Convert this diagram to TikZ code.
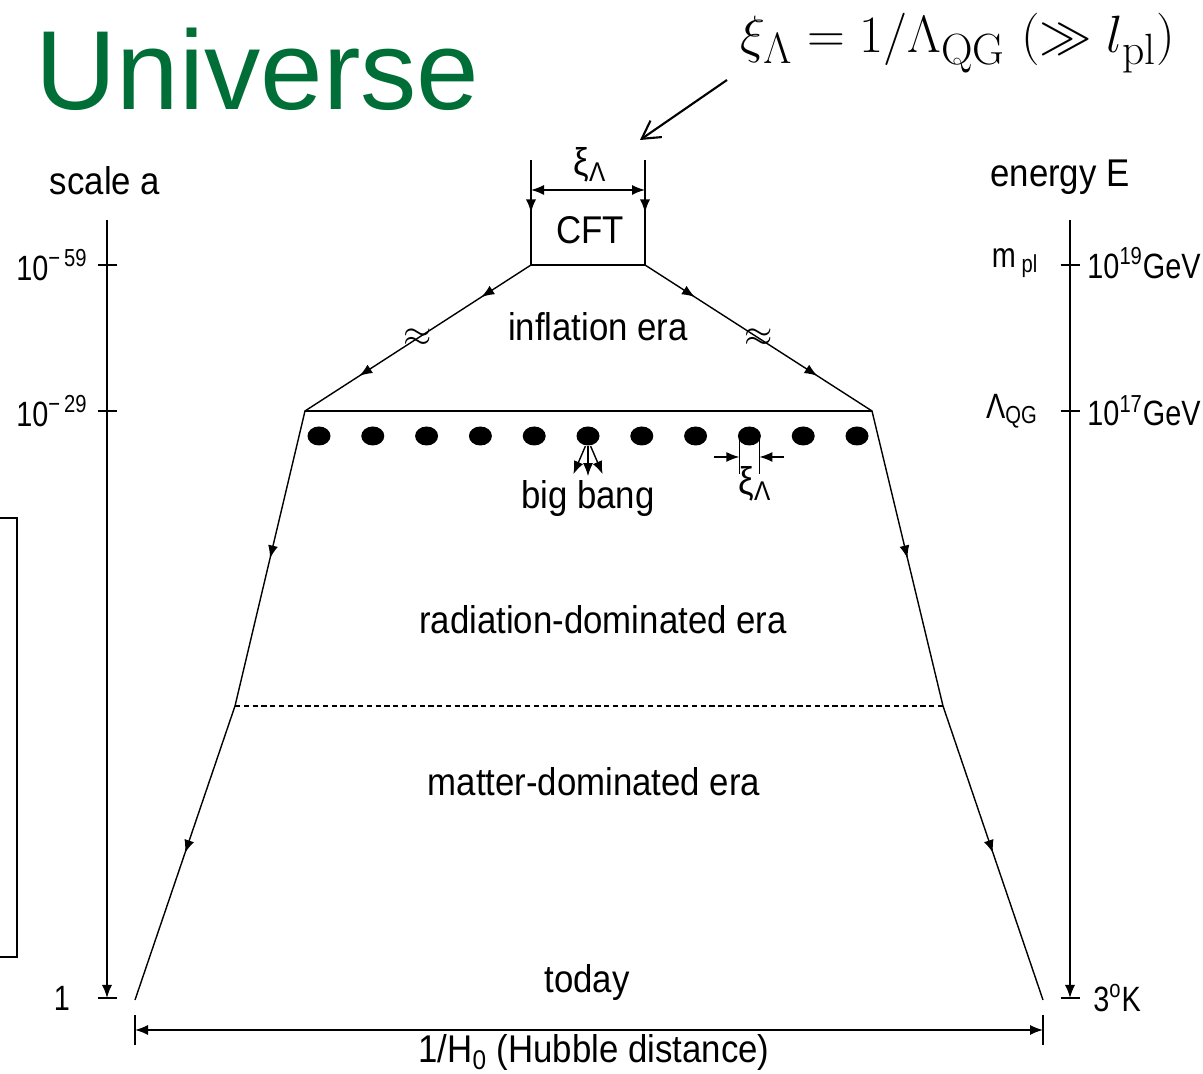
\documentclass[tikz,border=0pt]{standalone}
\usepackage{fontspec}
\usepackage{tkz-euclide}
\usetikzlibrary{arrows.meta,calc,decorations.markings,shapes.geometric}
\newfontfamily\arial{Liberation Sans}
\newfontfamily\goth[FakeStretch=0.9]{Liberation Sans}
\newfontfamily\gothn[FakeStretch=0.82]{Liberation Sans}
\definecolor{UniClr}{RGB}{0,110,55}

\begin{document}
\begin{tikzpicture}[line width=0.8pt,
  lbl/.style={font=\goth\fontsize{22}{26}\selectfont,inner sep=1pt},
  numlbl/.style={font=\gothn\fontsize{20}{24}\selectfont,inner sep=1pt},
  midarr/.style={postaction={decorate,decoration={markings,mark=at position #1 with {\arrow{Latex[length=2.6mm,width=2mm]}}}}},
  dot/.style={ellipse,fill=black,minimum width=4.6mm,minimum height=3.8mm,inner sep=0pt},
  tip/.style={-{Latex[length=2.6mm,width=2mm]}}]
\useasboundingbox (0,0) rectangle (24.06,21.48);
\tkzSetUpLine[line width=0.8pt,color=black]

\tkzDefPoints{10.62/18.28/T1,12.90/18.28/T2,10.62/16.18/A1,12.90/16.18/A2}
\tkzDefPoints{6.10/13.26/B1,17.44/13.26/B2,4.70/7.36/D1,18.86/7.36/D2}
\tkzDefPoints{2.70/1.48/C1,20.86/1.48/C2,10.62/17.68/P1,12.90/17.68/P2}
\tkzDefPoints{2.14/17.08/L0,2.14/1.52/L1,2.14/16.18/La,2.14/13.26/Lb}
\tkzDefPoints{21.40/17.08/R0,21.40/1.52/R1,21.40/16.18/Ra,21.40/13.26/Rb}
\tkzDefPoints{2.70/0.88/H1,20.86/0.88/H2,14.54/19.88/Q1,12.80/18.68/Q2}

\node[font=\arial\fontsize{64}{70}\selectfont,text=UniClr,anchor=base west,inner sep=0pt] (uni) at (0.70,19.28) {Universe};
\node[font=\Huge,scale=1.2] (form) at (19.16,20.62) {$\xi_\Lambda = 1/\Lambda_{\mathrm{QG}}\ (\gg l_{\mathrm{pl}})$};
\draw[line width=1.2pt,-{Straight Barb[length=3.5mm,width=4mm]}] (Q1) -- (Q2);

% CFT
\draw[midarr=0.5] (T1) -- (A1);
\draw[midarr=0.5] (T2) -- (A2);
\tkzDrawSegment(A1,A2)
\draw[{Latex[length=2.6mm,width=2mm]}-{Latex[length=2.6mm,width=2mm]}] (P1) -- (P2);
\node[lbl] (xi1) at (11.80,18.18) {ξ\textsubscript{Λ}};
\node[lbl] (cft) at (11.80,16.88) {CFT};

% universe outline
\draw[midarr=0.22,midarr=0.76] (A1) -- (B1) node[pos=0.5,font=\huge] (brk1) {$\approx$};
\draw[midarr=0.22,midarr=0.76] (A2) -- (B2) node[pos=0.5,font=\huge] (brk2) {$\approx$};
\tkzDrawSegment(B1,B2)
\draw[midarr=0.5] (B1) -- (D1);
\draw[midarr=0.5] (D1) -- (C1);
\draw[midarr=0.5] (B2) -- (D2);
\draw[midarr=0.5] (D2) -- (C2);
\draw[line width=0.6pt,dash pattern=on 3pt off 2pt] (D1) -- (D2);

\foreach \i in {0,...,10}
  \node[dot] (d\i) at ({6.38+1.076*\i},12.76) {};
\draw[tip] ([xshift=-1.5pt]d5.south) -- ++(-0.24,-0.56);
\draw[tip] (d5.south) -- ++(0,-0.6);
\draw[tip] ([xshift=1.5pt]d5.south) -- ++(0.24,-0.56);

\coordinate (m1) at ($(d8.center)+(-0.2,0)$);
\coordinate (m2) at ($(d8.center)+(0.2,0)$);
\draw (m1) -- ++(0,-0.76);
\draw (m2) -- ++(0,-0.76);
\draw[tip] ($(m1)+(-0.5,-0.42)$) -- ($(m1)+(0,-0.42)$);
\draw[tip] ($(m2)+(0.5,-0.42)$) -- ($(m2)+(0,-0.42)$);
\node[lbl] (xi2) at (15.10,11.80) {ξ\textsubscript{Λ}};

\node[lbl] (infl) at (11.96,14.94) {inflation era};
\node[lbl] (bang) at (11.76,11.50) {big bang};
\node[lbl] (rad) at (12.06,9.08) {radiation-dominated era};
\node[lbl] (mat) at (11.88,5.84) {matter-dominated era};
\node[lbl] (today) at (11.74,1.82) {today};

% scale axis
\draw[tip] (L0) -- (L1);
\foreach \p in {La,Lb,L1}
  \draw ([xshift=-0.19cm]\p) -- ([xshift=0.19cm]\p);
\node[lbl] (sca) at (2.10,17.86) {scale a};
\node[numlbl,anchor=east] (l59) at (1.80,16.18) {10\textsuperscript{−\,59}};
\node[numlbl,anchor=east] (l29) at (1.80,13.26) {10\textsuperscript{−\,29}};
\node[numlbl] (lone) at (1.24,1.52) {1};

% energy axis
\draw[tip] (R0) -- (R1);
\foreach \p in {Ra,Rb,R1}
  \draw ([xshift=-0.19cm]\p) -- ([xshift=0.19cm]\p);
\node[lbl] (en) at (21.20,17.94) {energy E};
\node[numlbl] (mpl) at (20.30,16.22) {m\,\textsubscript{pl}};
\node[numlbl,anchor=west] (e19) at (21.70,16.22) {10\textsuperscript{19}GeV};
\node[numlbl] (lqg) at (20.24,13.26) {Λ\textsubscript{QG}};
\node[numlbl,anchor=west] (e17) at (21.70,13.26) {10\textsuperscript{17}GeV};
\node[numlbl,anchor=west] (t3k) at (21.82,1.52) {3\textsuperscript{o}K};

% hubble distance
\draw[{Latex[length=2.6mm,width=2mm]}-{Latex[length=2.6mm,width=2mm]}] (H1) -- (H2);
\draw ([yshift=0.3cm]H1) -- ([yshift=-0.3cm]H1);
\draw ([yshift=0.3cm]H2) -- ([yshift=-0.3cm]H2);
\node[lbl] (hub) at (11.88,0.42) {1/H\textsubscript{0} (Hubble distance)};

\draw (-0.2,11.12) -- (0.34,11.12) -- (0.34,2.34) -- (-0.2,2.34);
\end{tikzpicture}
\end{document}
